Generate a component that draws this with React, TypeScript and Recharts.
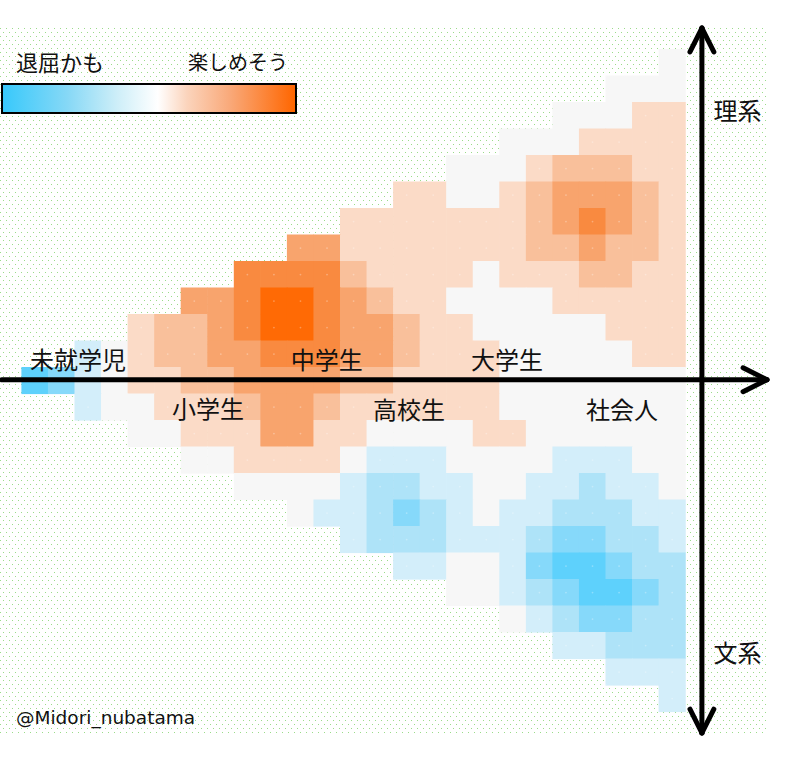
import { ScatterChart, Scatter, XAxis, YAxis, ReferenceLine } from 'recharts';

const CHART_W = 796;
const CHART_H = 763;

// one data unit = one grid cell; the grid is 25 x 25 cells
const CELL_W = 26.55;
const CELL_H = 26.5;
const X_DOMAIN: [number, number] = [-21.7 / CELL_W, -21.7 / CELL_W + CHART_W / CELL_W];
const Y_DOMAIN: [number, number] = [-49.3 / CELL_H, -49.3 / CELL_H + CHART_H / CELL_H];

// score per cell, row by row (top = 理系, bottom = 文系), right-aligned.
// -4 = 退屈かも ... 0 = neutral ... 5 = 楽しめそう
const ROW_00 = [0];
const ROW_01 = [0, 0, 0];
const ROW_02 = [0, 0, 0, 1, 1];
const ROW_03 = [0, 0, 0, 1, 1, 1, 1];
const ROW_04 = [0, 0, 0, 1, 2, 2, 2, 1, 1];
const ROW_05 = [1, 1, 0, 0, 1, 2, 3, 3, 3, 2, 1];
const ROW_06 = [1, 1, 1, 1, 1, 1, 1, 2, 3, 4, 3, 2, 1];
const ROW_07 = [3, 3, 1, 1, 1, 1, 1, 1, 1, 2, 2, 3, 2, 2, 1];
const ROW_08 = [4, 4, 4, 4, 2, 1, 1, 1, 1, 0, 1, 1, 1, 2, 2, 1, 1];
const ROW_09 = [3, 3, 4, 5, 5, 4, 3, 2, 1, 1, 0, 0, 0, 0, 1, 1, 1, 1, 1];
const ROW_10 = [1, 2, 2, 3, 4, 5, 5, 4, 3, 3, 2, 1, 1, 0, 0, 0, 0, 0, 1, 1, 1];
const ROW_11 = [-1, 0, 1, 2, 2, 3, 3, 4, 4, 4, 3, 3, 2, 1, 1, 1, 0, 0, 0, 0, 0, 1, 1];
const ROW_12 = [-4, -3, -1, 0, 1, 1, 2, 2, 3, 3, 3, 3, 2, 2, 1, 1, 1, 1, 0, 0, 0, 0, 0, 0, 0];
const ROW_13 = [-1, 0, 0, 1, 1, 1, 2, 3, 3, 2, 1, 1, 1, 1, 1, 1, 0, 0, 0, 0, 0, 0, 0];
const ROW_14 = [0, 0, 1, 1, 1, 3, 3, 1, 1, 0, 0, 0, 0, 1, 1, 0, 0, 0, 0, 0, 0];
const ROW_15 = [0, 0, 1, 1, 1, 1, 0, -1, -1, -1, 0, 0, 0, 0, -1, -1, -1, 0, 0];
const ROW_16 = [0, 0, 0, 0, -1, -2, -2, -1, -1, 0, 0, -1, -1, -2, -1, -1, 0];
const ROW_17 = [0, -1, -1, -2, -3, -2, -1, 0, -1, -1, -2, -2, -2, -1, -1];
const ROW_18 = [-1, -2, -2, -2, -1, -1, -1, -2, -3, -3, -2, -2, -1];
const ROW_19 = [-1, -1, 0, 0, -1, -3, -4, -4, -3, -2, -2];
const ROW_20 = [0, 0, -1, -2, -3, -4, -4, -3, -2];
const ROW_21 = [0, -1, -2, -3, -3, -2, -2];
const ROW_22 = [-1, -1, -2, -2, -2];
const ROW_23 = [-1, -1, -1];
const ROW_24 = [-1];

const ROWS = [
  ROW_00, ROW_01, ROW_02, ROW_03, ROW_04, ROW_05, ROW_06, ROW_07, ROW_08, ROW_09,
  ROW_10, ROW_11, ROW_12, ROW_13, ROW_14, ROW_15, ROW_16, ROW_17, ROW_18, ROW_19,
  ROW_20, ROW_21, ROW_22, ROW_23, ROW_24,
];

const CELLS = ROWS.flatMap((vals, r) => {
  const start = 25 - vals.length;
  return vals.map((v, i) => ({ x: start + i + 0.5, y: r + 0.5, v }));
});

const STAGES = ['未就学児', '中学生', '大学生', '小学生', '高校生', '社会人', '理系', '文系'];

// label anchors in grid units
const LABELS = [
  { text: STAGES[0], x: 2.12, y: 11.65 },
  { text: STAGES[1], x: 11.49, y: 11.65 },
  { text: STAGES[2], x: 18.28, y: 11.65 },
  { text: STAGES[3], x: 7.02, y: 13.52 },
  { text: STAGES[4], x: 14.59, y: 13.54 },
  { text: STAGES[5], x: 22.61, y: 13.54 },
  { text: STAGES[6], x: 26.96, y: 2.29 },
  { text: STAGES[7], x: 26.96, y: 22.74 },
];

const COLORS: Record<number, string> = {
  [-4]: '#5ed1fc',
  [-3]: '#86d9fa',
  [-2]: '#aee3f8',
  [-1]: '#d3eefa',
  0: '#f7f7f7',
  1: '#fbdbc7',
  2: '#f9c09b',
  3: '#f8a46d',
  4: '#f98a40',
  5: '#ff6a05',
};

const FONT_JP = "'Noto Sans CJK JP', 'Noto Sans', sans-serif";

function CellShape(props: any) {
  const { cx, cy, payload } = props;
  // a little overlap so neighbouring cells don't leave hairline seams
  return (
    <g>
      <rect
        x={cx - CELL_W / 2 - 0.3}
        y={cy - CELL_H / 2 - 0.3}
        width={CELL_W + 0.6}
        height={CELL_H + 0.6}
        fill={COLORS[payload.v]}
      />
      {payload.v !== 0 && <circle cx={cx} cy={cy} r={0.9} fill="#ffffff" fillOpacity={0.3} />}
    </g>
  );
}

function LabelShape(props: any) {
  const { cx, cy, payload } = props;
  return (
    <text
      x={cx}
      y={cy}
      textAnchor="middle"
      dominantBaseline="central"
      fontSize={24}
      fontFamily={FONT_JP}
      fill="#111"
    >
      {payload.text}
    </text>
  );
}

// arrow axes, in grid units
const H_Y = 12.47;
const H_FROM = -0.75;
const H_TIP = 28.07;
const V_X = 25.62;
const V_TOP = -0.8;
const V_BOTTOM = 25.8;

const ARROW_SEGMENTS = [
  [{ x: H_FROM, y: H_Y }, { x: H_TIP, y: H_Y }],
  [{ x: H_TIP - 0.9, y: H_Y - 0.45 }, { x: H_TIP, y: H_Y }],
  [{ x: H_TIP - 0.9, y: H_Y + 0.45 }, { x: H_TIP, y: H_Y }],
  [{ x: V_X, y: V_TOP }, { x: V_X, y: V_BOTTOM }],
  [{ x: V_X - 0.45, y: V_TOP + 0.9 }, { x: V_X, y: V_TOP }],
  [{ x: V_X + 0.45, y: V_TOP + 0.9 }, { x: V_X, y: V_TOP }],
  [{ x: V_X - 0.45, y: V_BOTTOM - 0.9 }, { x: V_X, y: V_BOTTOM }],
  [{ x: V_X + 0.45, y: V_BOTTOM - 0.9 }, { x: V_X, y: V_BOTTOM }],
];

const layer: React.CSSProperties = { position: 'absolute', left: 0, top: 0 };

export default function App() {
  return (
    <div style={{ position: 'absolute', left: 0, top: 0, width: CHART_W, height: CHART_H, background: '#fff' }}>
      <svg width={CHART_W} height={CHART_H} style={layer}>
        <defs>
          <pattern id="dots" x="0" y="28" width="6" height="8" patternUnits="userSpaceOnUse">
            <rect x="0" y="0" width="1" height="1" fill="#9bdc8a" />
            <rect x="3" y="4" width="1" height="1" fill="#9bdc8a" />
          </pattern>
        </defs>
        <rect x={0} y={28} width={767} height={705} fill="url(#dots)" />
      </svg>

      {/* heat cells */}
      <div style={layer}>
        <ScatterChart width={CHART_W} height={CHART_H} margin={{ top: 0, right: 0, bottom: 0, left: 0 }}>
          <XAxis type="number" dataKey="x" domain={X_DOMAIN} hide />
          <YAxis type="number" dataKey="y" domain={Y_DOMAIN} reversed hide />
          <Scatter data={CELLS} shape={CellShape} isAnimationActive={false} />
        </ScatterChart>
      </div>

      {/* arrows + stage labels on top, same scales */}
      <div style={layer}>
        <ScatterChart width={CHART_W} height={CHART_H} margin={{ top: 0, right: 0, bottom: 0, left: 0 }}>
          <XAxis type="number" dataKey="x" domain={X_DOMAIN} hide />
          <YAxis type="number" dataKey="y" domain={Y_DOMAIN} reversed hide />
          {ARROW_SEGMENTS.map((seg, i) => (
            <ReferenceLine
              key={i}
              segment={seg}
              ifOverflow="visible"
              stroke="#000"
              strokeWidth={5}
              strokeLinecap="round"
            />
          ))}
          <Scatter data={LABELS} shape={LabelShape} isAnimationActive={false} />
        </ScatterChart>
      </div>

      {/* colour legend */}
      <div style={{ position: 'absolute', left: 16, top: 46, fontFamily: FONT_JP, fontSize: 22, color: '#111', lineHeight: '30px' }}>
        退屈かも
      </div>
      <div style={{ position: 'absolute', left: 0, width: 288, textAlign: 'right', top: 47, fontFamily: FONT_JP, fontSize: 20, color: '#111', lineHeight: '30px' }}>
        楽しめそう
      </div>
      <div
        style={{
          position: 'absolute',
          left: 1,
          top: 83,
          width: 292,
          height: 27,
          border: '2px solid #000',
          background:
            'linear-gradient(to right, #38c9fb 0%, #86d8f6 22%, #cdeef8 39%, #ffffff 53%, #fbd4bc 63%, #f9a878 78%, #ff6600 100%)',
        }}
      />
      <div style={{ position: 'absolute', left: 16, top: 706, fontFamily: "'DejaVu Sans', sans-serif", fontSize: 18.5, color: '#111', lineHeight: '24px' }}>
        @Midori_nubatama
      </div>
    </div>
  );
}
